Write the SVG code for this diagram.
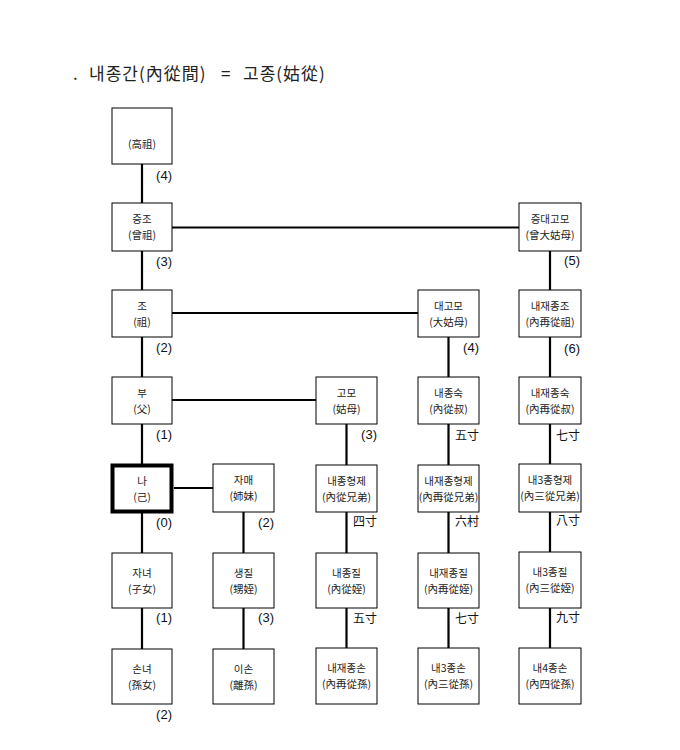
<svg xmlns="http://www.w3.org/2000/svg" width="680" height="750" viewBox="0 0 680 750">
<style>
.bx{fill:#fff;stroke:#000;stroke-width:1}
.me{fill:#fff;stroke:#000;stroke-width:4}
.t{font-family:"Noto Sans CJK KR","Noto Sans",sans-serif;font-size:10.5px;fill:#222;text-anchor:middle}
.n{font-family:"Liberation Sans",Arial,sans-serif;font-size:13px;fill:#111;text-anchor:end}
.c{font-family:"Noto Sans CJK KR",sans-serif;font-size:12px;fill:#111;text-anchor:end}
.ttl{font-family:"Noto Sans CJK KR",sans-serif;font-size:17px;fill:#222}
.ls{letter-spacing:1px}
.ln{stroke:#000;stroke-width:2.2;fill:none}
</style>
<rect width="680" height="750" fill="#fff"/>
<text class="ttl" y="80"><tspan x="73">.</tspan><tspan class="ls" x="89">내종간(內從間)</tspan><tspan x="221">=</tspan><tspan class="ls" x="243">고종(姑從)</tspan></text>

<g id="connectors" class="ln">
<path d="M172 227.5H519M172 313H418M172 400H316M174 488H213"/>
<path d="M142 164V203M142 251V290M142 337V377M142 424V464M142 512V553M142 608V649"/>
<path d="M243.5 512V553M243.5 608V649"/>
<path d="M346.5 424V465M346.5 512V553M346.5 608V648"/>
<path d="M448.5 337V377M448.5 424V465M448.5 512V553M448.5 608V648"/>
<path d="M550 251V290M550 337V377M550 424V464M550 512V552M550 608V648"/>
</g>

<g id="gojo"><rect class="bx" x="112" y="108" width="60" height="56"/><text class="t" x="142" y="148">(高祖)</text></g>
<g id="jeungjo"><rect class="bx" x="112" y="203" width="60" height="48"/><text class="t" x="142" y="223">증조</text><text class="t" x="142" y="239">(曾祖)</text></g>
<g id="jo"><rect class="bx" x="112" y="290" width="60" height="47"/><text class="t" x="142" y="309.5">조</text><text class="t" x="142" y="325.5">(祖)</text></g>
<g id="bu"><rect class="bx" x="112" y="377" width="60" height="47"/><text class="t" x="142" y="396.5">부</text><text class="t" x="142" y="412.5">(父)</text></g>
<g id="na"><rect class="me" x="112.5" y="465.5" width="59" height="46"/><text class="t" x="142" y="484.5">나</text><text class="t" x="142" y="500.5">(己)</text></g>
<g id="janyeo"><rect class="bx" x="112" y="553" width="60" height="55"/><text class="t" x="142" y="576.5">자녀</text><text class="t" x="142" y="592.5">(子女)</text></g>
<g id="sonnyeo"><rect class="bx" x="112" y="649" width="60" height="55"/><text class="t" x="142" y="672.5">손녀</text><text class="t" x="142" y="688.5">(孫女)</text></g>

<g id="jamae"><rect class="bx" x="213" y="464" width="61" height="48"/><text class="t" x="243.5" y="484">자매</text><text class="t" x="243.5" y="500">(姉妹)</text></g>
<g id="saengjil"><rect class="bx" x="213" y="553" width="61" height="55"/><text class="t" x="243.5" y="576.5">생질</text><text class="t" x="243.5" y="592.5">(甥姪)</text></g>
<g id="ison"><rect class="bx" x="213" y="649" width="61" height="55"/><text class="t" x="243.5" y="672.5">이손</text><text class="t" x="243.5" y="688.5">(離孫)</text></g>

<g id="gomo"><rect class="bx" x="316" y="377" width="61" height="47"/><text class="t" x="346.5" y="396.5">고모</text><text class="t" x="346.5" y="412.5">(姑母)</text></g>
<g id="naejonghyeongje"><rect class="bx" x="316" y="465" width="61" height="47"/><text class="t" x="346.5" y="484.5">내종형제</text><text class="t" x="346.5" y="500.5">(內從兄弟)</text></g>
<g id="naejongjil"><rect class="bx" x="316" y="553" width="61" height="55"/><text class="t" x="346.5" y="576.5">내종질</text><text class="t" x="346.5" y="592.5">(內從姪)</text></g>
<g id="naejaejongson"><rect class="bx" x="316" y="648" width="61" height="56"/><text class="t" x="346.5" y="672">내재종손</text><text class="t" x="346.5" y="688">(內再從孫)</text></g>

<g id="daegomo"><rect class="bx" x="418" y="290" width="61" height="47"/><text class="t" x="448.5" y="309.5">대고모</text><text class="t" x="448.5" y="325.5">(大姑母)</text></g>
<g id="naejongsuk"><rect class="bx" x="418" y="377" width="61" height="47"/><text class="t" x="448.5" y="396.5">내종숙</text><text class="t" x="448.5" y="412.5">(內從叔)</text></g>
<g id="naejaejonghyeongje"><rect class="bx" x="418" y="465" width="61" height="47"/><text class="t" x="448.5" y="484.5">내재종형제</text><text class="t" x="448.5" y="500.5">(內再從兄弟)</text></g>
<g id="naejaejongjil"><rect class="bx" x="418" y="553" width="61" height="55"/><text class="t" x="448.5" y="576.5">내재종질</text><text class="t" x="448.5" y="592.5">(內再從姪)</text></g>
<g id="naesamjongson"><rect class="bx" x="418" y="648" width="61" height="56"/><text class="t" x="448.5" y="672">내3종손</text><text class="t" x="448.5" y="688">(內三從孫)</text></g>

<g id="jeungdaegomo"><rect class="bx" x="519" y="203" width="62" height="48"/><text class="t" x="550" y="223">증대고모</text><text class="t" x="550" y="239">(曾大姑母)</text></g>
<g id="naejaejongjo"><rect class="bx" x="519" y="290" width="62" height="47"/><text class="t" x="550" y="309.5">내재종조</text><text class="t" x="550" y="325.5">(內再從祖)</text></g>
<g id="naejaejongsuk"><rect class="bx" x="519" y="377" width="62" height="47"/><text class="t" x="550" y="396.5">내재종숙</text><text class="t" x="550" y="412.5">(內再從叔)</text></g>
<g id="naesamjonghyeongje"><rect class="bx" x="519" y="464" width="62" height="48"/><text class="t" x="550" y="484">내3종형제</text><text class="t" x="550" y="500">(內三從兄弟)</text></g>
<g id="naesamjongjil"><rect class="bx" x="519" y="552" width="62" height="56"/><text class="t" x="550" y="576">내3종질</text><text class="t" x="550" y="592">(內三從姪)</text></g>
<g id="naesajongson"><rect class="bx" x="519" y="648" width="62" height="56"/><text class="t" x="550" y="672">내4종손</text><text class="t" x="550" y="688">(內四從孫)</text></g>

<g id="degrees">
<text class="n" x="172" y="180">(4)</text>
<text class="n" x="172" y="266">(3)</text>
<text class="n" x="172" y="352">(2)</text>
<text class="n" x="172" y="439">(1)</text>
<text class="n" x="172" y="527">(0)</text>
<text class="n" x="172" y="622">(1)</text>
<text class="n" x="172" y="719">(2)</text>
<text class="n" x="274" y="527">(2)</text>
<text class="n" x="274" y="622">(3)</text>
<text class="n" x="377" y="439">(3)</text>
<text class="c" x="377" y="526">四寸</text>
<text class="c" x="377" y="622.5">五寸</text>
<text class="n" x="479" y="352">(4)</text>
<text class="c" x="479" y="440">五寸</text>
<text class="c" x="479" y="526">六村</text>
<text class="c" x="479" y="622.5">七寸</text>
<text class="n" x="580" y="264.5">(5)</text>
<text class="n" x="580" y="352.5">(6)</text>
<text class="c" x="580" y="440">七寸</text>
<text class="c" x="580" y="525">八寸</text>
<text class="c" x="580" y="621.5">九寸</text>
</g>
</svg>
